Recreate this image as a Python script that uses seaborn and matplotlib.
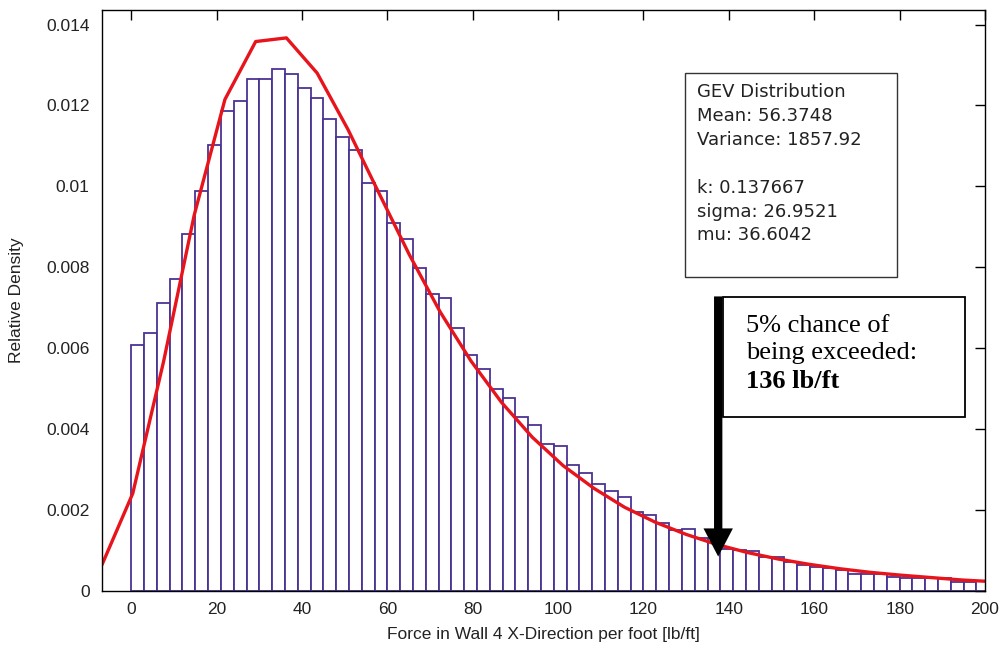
import numpy as np
import pandas as pd
import matplotlib
matplotlib.use("Agg")
import matplotlib.pyplot as plt
from matplotlib.patches import Rectangle
import seaborn as sns

# ---- data ----
bin_width = 3
bin_lefts = list(range(0, 201, 3))  # 0 .. 198
bar_heights = [
    0.00608, 0.00637, 0.00711, 0.00771, 0.00882, 0.00989, 0.01103, 0.01186,
    0.01210, 0.01265, 0.01265, 0.01289, 0.01277, 0.01242, 0.01218, 0.01166,
    0.01123, 0.01091, 0.01008, 0.00989, 0.00909, 0.00869, 0.00798, 0.00735,
    0.00723, 0.00651, 0.00583, 0.00549, 0.00500, 0.00478, 0.00429, 0.00410,
    0.00363, 0.00358, 0.00311, 0.00291, 0.00264, 0.00248, 0.00232, 0.00194,
    0.00188, 0.00167, 0.00151, 0.00153, 0.00132, 0.00120, 0.00104, 0.00102,
    0.00098, 0.00084, 0.00084, 0.00072, 0.00064, 0.00059, 0.00057, 0.00052,
    0.00043, 0.00042, 0.00042, 0.00034, 0.00032, 0.00032, 0.00031, 0.00031,
    0.00023, 0.00023, 0.00025,
]

curve_x = [-6.85, 0.35, 7.55, 14.75, 21.95, 29.15, 36.35, 43.55, 50.75, 57.95,
           65.15, 72.35, 79.55, 86.75, 93.95, 101.15, 108.35, 115.55, 122.75,
           129.95, 137.15, 144.35, 151.55, 158.75, 165.95, 173.15, 180.35,
           187.55, 194.75, 201.95]
curve_y = [0.00065, 0.00241, 0.00566, 0.00929, 0.01215, 0.01358, 0.01367,
           0.01280, 0.01141, 0.00985, 0.00831, 0.00690, 0.00569, 0.00466,
           0.00380, 0.00310, 0.00254, 0.00207, 0.00170, 0.00140, 0.00115,
           0.00095, 0.00079, 0.00066, 0.00055, 0.00046, 0.00039, 0.00033,
           0.00027, 0.00023]

x_ticks = [0, 20, 40, 60, 80, 100, 120, 140, 160, 180, 200]
y_ticks = [0, 0.002, 0.004, 0.006, 0.008, 0.010, 0.012, 0.014]
y_tick_labels = ["0", "0.002", "0.004", "0.006", "0.008", "0.01", "0.012", "0.014"]

stats_text = ["GEV Distribution", "Mean: 56.3748", "Variance: 1857.92", "",
              "k: 0.137667", "sigma: 26.9521", "mu: 36.6042"]
note_lines = ["5% chance of", "being exceeded:"]
note_bold = "136 lb/ft"
arrow_x = 137.5

x_label = "Force in Wall 4 X-Direction per foot [lb/ft]"
y_label = "Relative Density"

# ---- plotting ----
sns.set_theme(style="white")
plt.rcParams["font.family"] = ["Liberation Sans", "DejaVu Sans"]

fig = plt.figure(figsize=(10.05, 6.52), dpi=100)
ax = fig.add_axes([0.1015, 0.0936, 0.8786, 0.8911])

hist_df = pd.DataFrame({"x": [b + bin_width / 2 for b in bin_lefts],
                        "w": bar_heights})
edges = list(range(0, 202, 3))
sns.histplot(data=hist_df, x="x", weights="w", bins=edges, stat="count",
             element="bars", fill=True, color="white", edgecolor="#4b3394",
             linewidth=1.3, alpha=1, ax=ax)

curve_df = pd.DataFrame({"x": curve_x, "y": curve_y})
sns.lineplot(data=curve_df, x="x", y="y", sort=False, color="#e8141c",
             linewidth=2.4, ax=ax)

ax.set_xlim(-6.85, 200)
ax.set_ylim(0, 0.01436)
ax.set_xticks(x_ticks)
ax.set_xticklabels([str(t) for t in x_ticks])
ax.set_yticks(y_ticks)
ax.set_yticklabels(y_tick_labels)
ax.tick_params(direction="in", length=7, width=1, colors="black",
               top=True, right=True, labelsize=12.5, labelcolor="#222222")
ax.tick_params(axis="x", pad=8)
ax.tick_params(axis="y", pad=9)
for s in ax.spines.values():
    s.set_visible(True)
    s.set_color("black")
    s.set_linewidth(1.0)
ax.set_xlabel(x_label, fontsize=12.5, color="#222222", labelpad=7)
ax.set_ylabel(y_label, fontsize=12.5, color="#222222", labelpad=16)
ax.grid(False)
ax.set_facecolor("white")
fig.patch.set_facecolor("white")

# stats box
ax.add_patch(Rectangle((0.660, 0.540), 0.240, 0.352, transform=ax.transAxes,
                       facecolor="white", edgecolor="#333333", linewidth=1.0,
                       zorder=5))
ax.text(0.674, 0.874, "\n".join(stats_text), transform=ax.transAxes,
        ha="left", va="top", fontsize=13, color="#222222",
        family=["DejaVu Sans"], linespacing=1.42, zorder=6)

# arrow
ax.annotate("", xy=(arrow_x, 0.00085), xytext=(arrow_x, 0.00728),
            arrowprops=dict(arrowstyle="-|>,head_length=0.9,head_width=0.47",
                            color="black", linewidth=6, shrinkA=0, shrinkB=0,
                            capstyle="butt", joinstyle="miter"),
            zorder=7)

# note box
ax.add_patch(Rectangle((0.703, 0.300), 0.274, 0.206, transform=ax.transAxes,
                       facecolor="white", edgecolor="black", linewidth=1.3,
                       zorder=6))
note_y = [0.456, 0.409]
for line, yy in zip(note_lines, note_y):
    ax.text(0.729, yy, line, transform=ax.transAxes, ha="left",
            va="center", fontsize=19, family=["Liberation Serif"],
            color="black", zorder=8)
ax.text(0.729, 0.361, note_bold, transform=ax.transAxes,
        ha="left", va="center", fontsize=19, family=["Liberation Serif"],
        fontweight="bold", color="black", zorder=8)

fig.savefig("out.png", dpi=100, facecolor="white")
